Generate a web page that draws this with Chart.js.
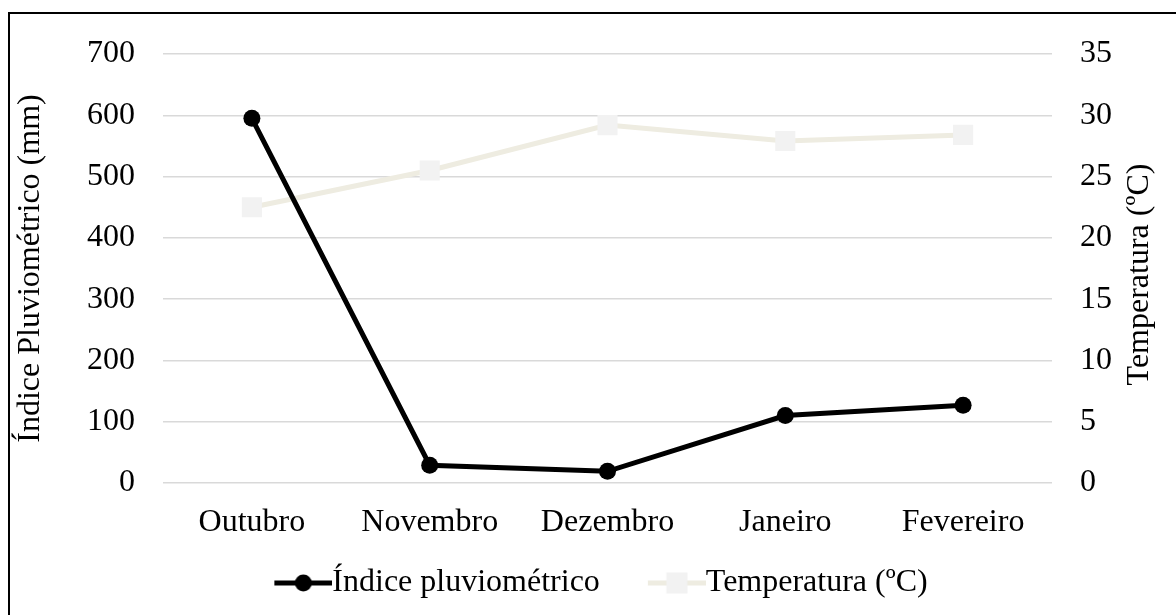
<!DOCTYPE html>
<html>
<head>
<meta charset="utf-8">
<script src="https://cdn.jsdelivr.net/npm/chart.js@4"></script>
<style>
  html, body { margin: 0; padding: 0; background: #fff; }
  #wrap { position: relative; width: 1176px; height: 615px; }
</style>
</head>
<body>
<div id="wrap"><canvas id="c" width="1176" height="615"></canvas></div>
<script>
const categories = ['Outubro', 'Novembro', 'Dezembro', 'Janeiro', 'Fevereiro'];
const rainfall = [595, 29, 19, 110, 127];
const temperature = [22.5, 25.5, 29.2, 27.9, 28.4];
const leftTicks = [0, 100, 200, 300, 400, 500, 600, 700];
const rightTicks = [0, 5, 10, 15, 20, 25, 30, 35];
const seriesNames = ['Índice pluviométrico', 'Temperatura (ºC)'];
const axisTitles = ['Índice Pluviométrico (mm)', 'Temperatura (ºC)'];

const FONT = "'Liberation Serif', 'Times New Roman', serif";
const FS = 32;

// legend icon: line with marker, content in right 58px of canvas
const M = 27;
function legendIcon(color, markerColor, type) {
  const cv = document.createElement('canvas');
  cv.width = 58 + 2 * M; cv.height = 24;
  const g = cv.getContext('2d');
  const x0 = 2 * M;
  g.strokeStyle = color; g.lineWidth = 5;
  g.beginPath(); g.moveTo(x0, 12); g.lineTo(x0 + 58, 12); g.stroke();
  g.fillStyle = markerColor;
  if (type === 'circle') { g.beginPath(); g.arc(x0 + 29, 12, 8.5, 0, Math.PI * 2); g.fill(); }
  else { g.fillRect(x0 + 29 - 10.5, 1.5, 21, 21); }
  return cv;
}
const icons = [legendIcon('#000', '#000', 'circle'), legendIcon('#EEECE1', '#F2F2F2', 'rect')];

const decor = {
  id: 'decor',
  afterDraw(chart) {
    const ctx = chart.ctx;
    const ca = chart.chartArea;
    ctx.save();
    ctx.strokeStyle = '#000'; ctx.lineWidth = 2;
    ctx.beginPath(); ctx.moveTo(9, 615); ctx.lineTo(9, 13); ctx.lineTo(1176, 13); ctx.stroke();
    // right axis title, reading bottom-to-top
    ctx.translate(1140, (ca.top + ca.bottom) / 2 + 6);
    ctx.rotate(-Math.PI / 2);
    ctx.fillStyle = '#000';
    ctx.font = FS + 'px ' + FONT;
    ctx.textAlign = 'center';
    ctx.textBaseline = 'middle';
    ctx.fillText(axisTitles[1], 0, 0);
    ctx.restore();
  }
};

new Chart(document.getElementById('c'), {
  type: 'line',
  data: {
    labels: categories,
    datasets: [
      { label: seriesNames[0], data: rainfall, yAxisID: 'y', borderColor: '#000', backgroundColor: '#000',
        borderWidth: 5, pointRadius: 8.5, pointHoverRadius: 8.5, pointStyle: 'circle', pointBorderWidth: 0, tension: 0, order: 1 },
      { label: seriesNames[1], data: temperature, yAxisID: 'y1', borderColor: '#EEECE1', backgroundColor: '#F2F2F2',
        borderWidth: 5, pointRadius: 14.2, pointHoverRadius: 14.2, pointStyle: 'rect', pointBorderWidth: 0, tension: 0, order: 2 }
    ]
  },
  options: {
    responsive: false,
    animation: false,
    devicePixelRatio: 1,
    layout: { padding: { top: 54, left: 0, right: 12, bottom: 6 } },
    plugins: {
      tooltip: { enabled: false },
      legend: {
        position: 'bottom',
        labels: {
          color: '#000',
          font: { family: FONT, size: FS },
          usePointStyle: true,
          pointStyleWidth: 26 + 2 * M,
          padding: 10,
          generateLabels(chart) {
            return chart.data.datasets.map((d, i) => ({
              text: d.label, pointStyle: icons[i], fillStyle: 'transparent', strokeStyle: 'transparent',
              lineWidth: 0, fontColor: '#000', datasetIndex: i, hidden: false
            }));
          }
        }
      }
    },
    scales: {
      x: {
        offset: true,
        grid: { display: false, drawTicks: false },
        border: { display: false },
        ticks: { color: '#000', font: { family: FONT, size: FS }, padding: 20, maxRotation: 0 },
        afterFit(s) { s.height = 74; }
      },
      y: {
        position: 'left', min: 0, max: 700,
        afterBuildTicks(s) { s.ticks = leftTicks.map(v => ({ value: v })); },
        grid: { color: '#D9D9D9', lineWidth: 1.5, drawTicks: false },
        border: { display: false },
        ticks: { color: '#000', font: { family: FONT, size: FS }, padding: 28 },
        title: { display: true, text: axisTitles[0], color: '#000', font: { family: FONT, size: FS }, padding: { top: 11, bottom: 0 } },
        afterFit(s) { s.width = 163; }
      },
      y1: {
        position: 'right', min: 0, max: 35,
        afterBuildTicks(s) { s.ticks = rightTicks.map(v => ({ value: v })); },
        grid: { display: false, drawTicks: false },
        border: { display: false },
        ticks: { color: '#000', font: { family: FONT, size: FS }, padding: 28 },
        title: { display: false },
        afterFit(s) { s.width = 112; }
      }
    }
  },
  plugins: [decor]
});
</script>
</body>
</html>
